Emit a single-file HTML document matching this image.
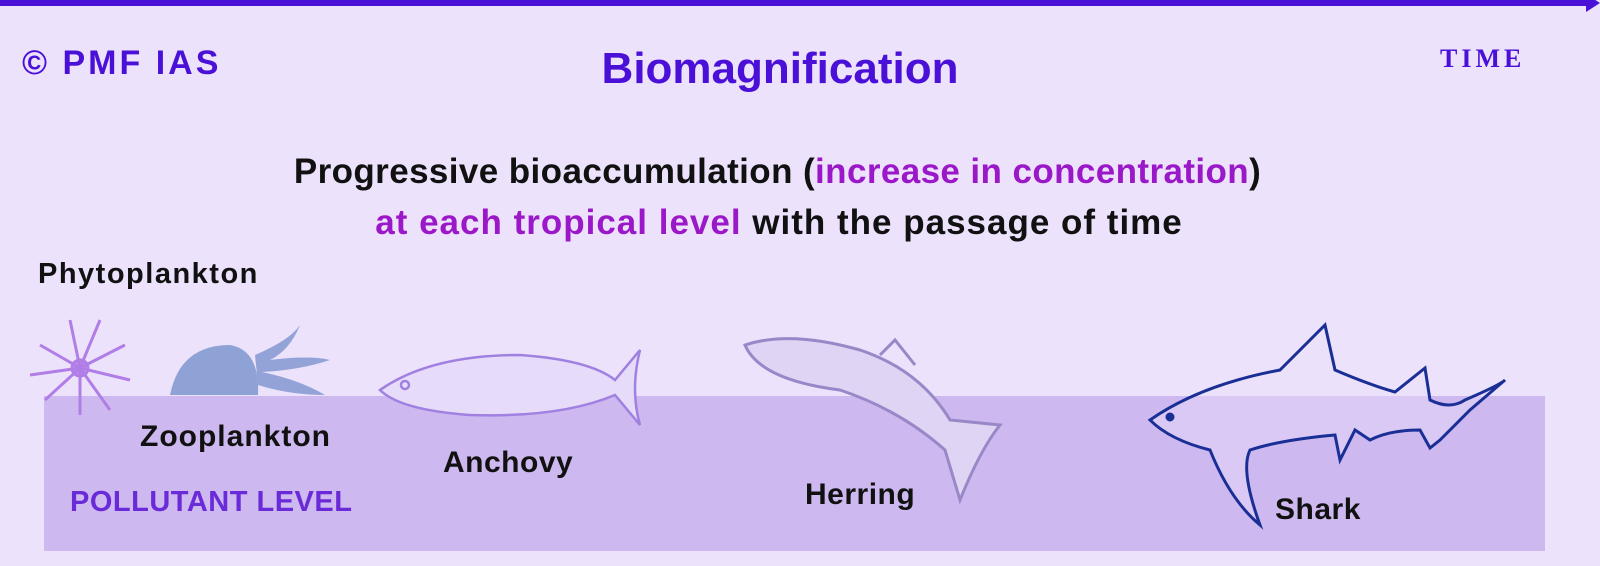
<!DOCTYPE html>
<html><head><meta charset="utf-8"><style>
body{margin:0;width:1600px;height:566px;background:#ece2fb;position:relative;overflow:hidden;font-family:"Liberation Sans",sans-serif}
.t{position:absolute;white-space:nowrap;font-weight:bold;color:#111;line-height:1.15}
</style></head><body>
<svg style="position:absolute;left:0;top:0" width="1600" height="20"><rect x="0" y="0" width="1590" height="6" fill="#4a10d8"/><polygon points="1586,-6 1600,3 1586,12" fill="#4a10d8"/></svg>
<div style="position:absolute;left:44px;top:396px;width:1501px;height:155px;background:#cdb9f0"></div>
<div class="t" style="left:22px;top:44px;font-size:34px;color:#4a10d8;letter-spacing:3px">© PMF IAS</div>
<div class="t" style="left:0;width:1560px;text-align:center;top:44px;font-size:44px;color:#4a10d8">Biomagnification</div>
<div class="t" style="left:1440px;top:44px;font-size:26px;font-family:'Liberation Serif',serif;color:#4a10d8;letter-spacing:4px">TIME</div>
<div class="t" style="left:0;width:1555px;text-align:center;top:152px;font-size:35px;letter-spacing:0.4px">Progressive bioaccumulation (<span style="color:#9a18c8">increase in concentration</span>)</div>
<div class="t" style="left:0;width:1558px;text-align:center;top:203px;font-size:35px;letter-spacing:1px"><span style="color:#9a18c8">at each tropical level</span> with the passage of time</div>
<div class="t" style="left:38px;top:258px;font-size:29px;letter-spacing:1.5px">Phytoplankton</div>
<div class="t" style="left:140px;top:420px;font-size:30px;letter-spacing:1px">Zooplankton</div>
<div class="t" style="left:443px;top:446px;font-size:30px;letter-spacing:0.5px">Anchovy</div>
<div class="t" style="left:805px;top:478px;font-size:30px;letter-spacing:0.5px">Herring</div>
<div class="t" style="left:1275px;top:493px;font-size:30px;letter-spacing:0.5px">Shark</div>
<div class="t" style="left:70px;top:486px;font-size:29px;color:#6a2ad8;letter-spacing:0.5px">POLLUTANT LEVEL</div>
<svg style="position:absolute;left:0;top:0" width="1600" height="566" fill="none">
<g stroke="#b07ee6" stroke-width="3">
<circle cx="80" cy="368" r="8" fill="#c890e8"/>
<path d="M80 368 L40 345 M80 368 L30 375 M80 368 L45 400 M80 368 L70 320 M80 368 L100 320 M80 368 L125 345 M80 368 L130 380 M80 368 L110 410 M80 368 L80 415"/>
</g>
<g>
<path d="M170 395 Q180 345 230 345 Q260 350 258 395 Z" fill="#8ea2d6"/>
<path d="M255 355 Q290 340 300 325 Q290 350 270 360 Q310 355 330 360 Q300 370 262 372 Q300 380 325 395 Q290 395 258 385Z" fill="#93a3d8"/>
</g>
<g stroke="#a080e0" stroke-width="2.5">
<path d="M380 390 Q430 355 520 355 Q590 360 615 380 L640 350 Q630 390 640 425 L615 395 Q560 418 470 415 Q400 410 380 390Z" fill="#e6dcfa"/>
<circle cx="405" cy="385" r="4"/>
</g>
<g stroke="#9888c8" stroke-width="3">
<path d="M745 345 Q790 330 860 350 Q920 370 950 420 L1000 425 Q980 450 960 500 L945 450 Q900 410 840 390 Q760 380 745 345Z" fill="#e0d4f4"/>
<path d="M880 355 L895 340 L915 365" />
</g>
<g stroke="#1a2f96" stroke-width="3">
<path d="M1150 420 Q1200 385 1280 370 L1325 325 L1335 370 Q1370 385 1395 392 L1425 368 L1430 400 Q1450 410 1465 400 Q1500 385 1505 380 L1470 410 Q1460 420 1440 440 L1430 448 L1420 430 Q1390 430 1370 440 L1355 430 L1340 460 L1335 435 Q1280 440 1250 450 Q1240 470 1260 525 Q1230 500 1210 450 Q1170 440 1150 420Z" fill="#ece2fb" fill-opacity="0.4"/>
<circle cx="1170" cy="417" r="3" fill="#1a2f96"/>
</g>
</svg>
</body></html>
